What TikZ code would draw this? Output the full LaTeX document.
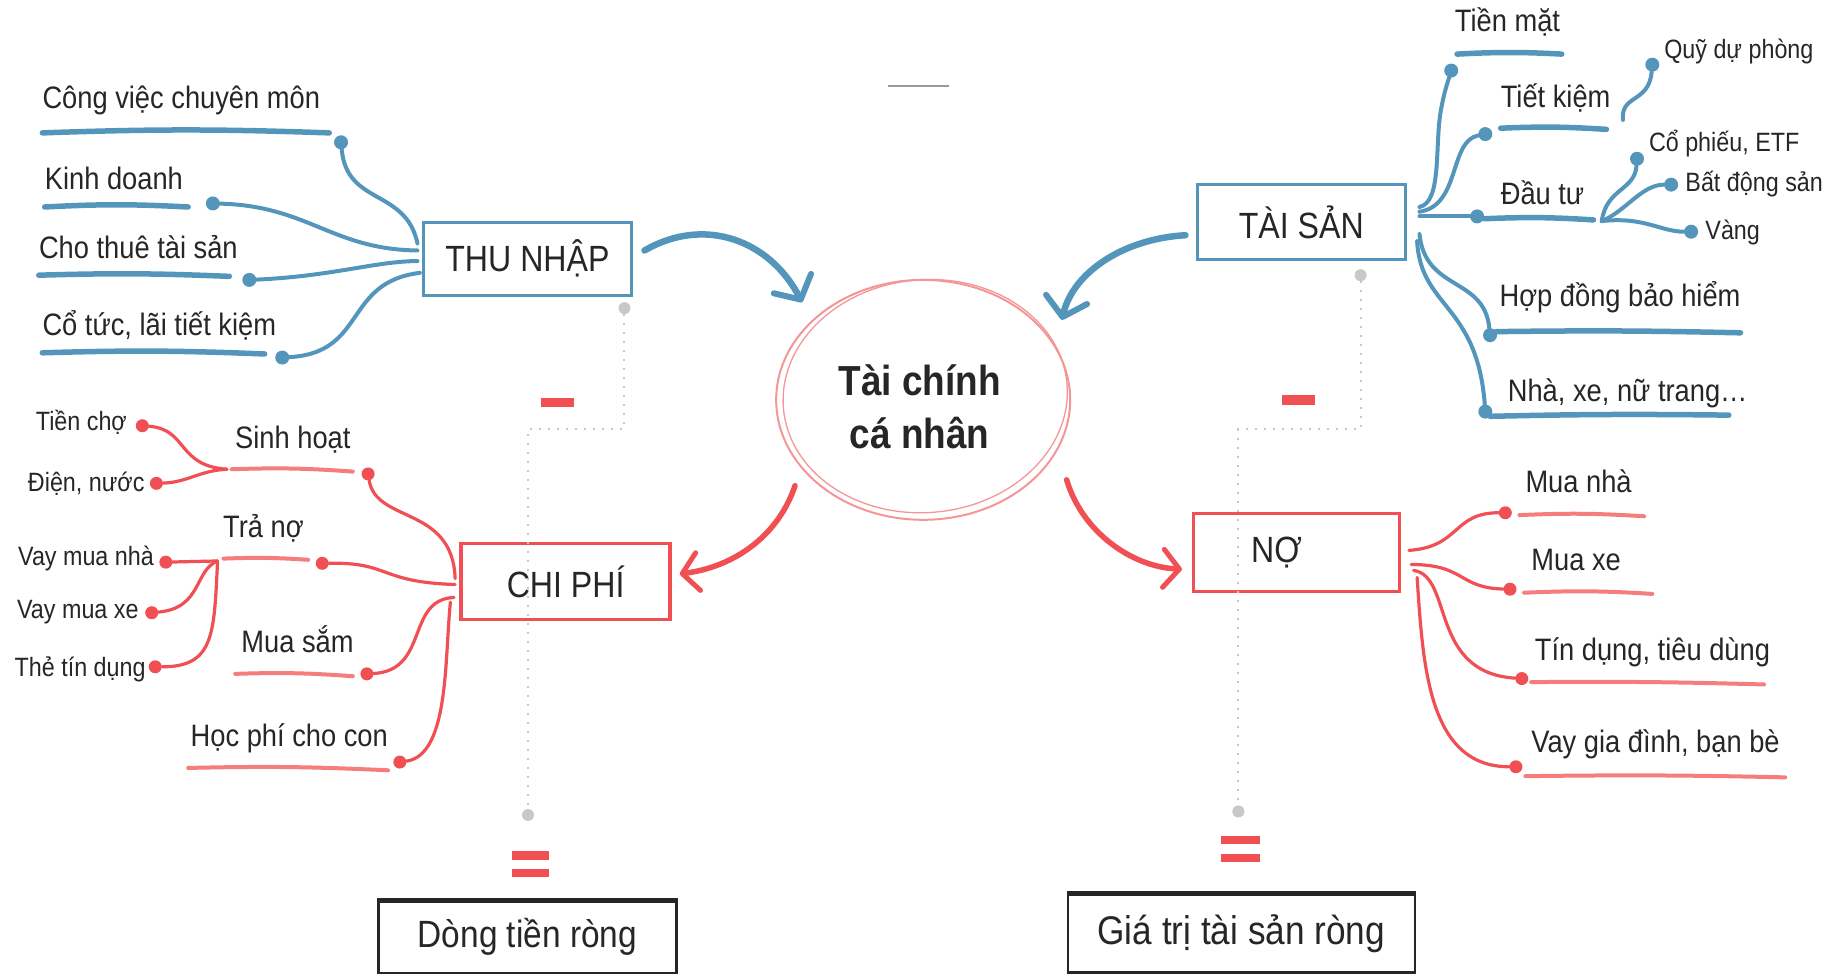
\documentclass[tikz,border=0pt]{standalone}
\usepackage{fontspec}
\setmainfont{Liberation Sans}[FakeStretch=0.88]
\usetikzlibrary{arrows.meta,calc}
\definecolor{cblue}{RGB}{84,150,187}
\definecolor{cred}{RGB}{240,80,84}
\definecolor{lred}{RGB}{245,125,125}
\definecolor{pinkc}{RGB}{244,150,150}
\definecolor{gry}{RGB}{200,200,200}
\definecolor{txt}{RGB}{38,38,38}
\begin{document}
\begin{tikzpicture}[x=1.176pt,y=-1.176pt,
  lbl/.style={text=txt,font=\fontsize{31}{36}\selectfont,inner sep=0pt},
  sml/.style={text=txt,font=\fontsize{26.5}{30}\selectfont,inner sep=0pt},
  bdot/.style={circle,fill=cblue,inner sep=0pt,minimum size=14pt},
  rdot/.style={circle,fill=cred,inner sep=0pt,minimum size=13pt},
  gdot/.style={circle,fill=gry,inner sep=0pt,minimum size=12pt},
  bline/.style={draw=cblue,line width=4pt,line cap=round},
  rline/.style={draw=cred,line width=3.2pt,line cap=round},
  bul/.style={draw=cblue,line width=5.5pt,line cap=round},
  rul/.style={draw=lred,line width=4pt,line cap=round},
  bbox/.style={draw=cblue,line width=3.4pt,minimum width=208pt,minimum height=73pt,text=txt,font=\fontsize{36.5}{40}\selectfont},
  rbox/.style={draw=cred,line width=3.4pt,minimum width=208pt,minimum height=76pt,text=txt,font=\fontsize{36.5}{40}\selectfont},
  kbox/.style={draw=black!85,line width=2.6pt,text=txt},
  dotline/.style={draw=gry,line width=2pt,dash pattern=on 2pt off 7pt},
  bigb/.style={draw=cblue,line width=6.5pt,line cap=round,-{Straight Barb[length=18pt,width=42pt,line width=6pt,round]}},
  bigr/.style={draw=cred,line width=5.5pt,line cap=round,-{Straight Barb[length=16pt,width=38pt,line width=5pt,round]}}
]
\useasboundingbox (0,0) rectangle (1568,828);

% top grey line
\draw[gray!80,line width=2.5pt] (755,73) -- (807,73);

% central circle
\draw[pinkc,line width=2pt] (785,340) ellipse [x radius=125, y radius=102];
\draw[pinkc,line width=1.3pt,rotate around={5:(785,340)}] (787,337) ellipse [x radius=121, y radius=99];
\node[align=center,text=txt,font=\bfseries\fontsize{42}{53}\selectfont] (TC) at (782,346) {Tài chính\\ cá nhân};

% boxes
\node[bbox] (THU) at (448.5,220) {THU NHẬP};
\node[bbox,minimum height=75pt] (TAI) at (1106.5,189) {TÀI SẢN};
\node[rbox,minimum width=209pt] (CHI) at (481,494.5) {CHI PHÍ};
\node[rbox,minimum width=206pt,minimum height=78pt] (NO) at (1102.5,470) {NỢ\hspace*{40pt}};
\node[kbox,minimum width=298pt,minimum height=72pt,font=\fontsize{38}{42}\selectfont] (DT) at (448.5,797) {Dòng tiền ròng};
\node[kbox,minimum width=347pt,minimum height=78pt,font=\fontsize{40}{44}\selectfont] (GT) at (1055.5,794) {Giá trị tài sản ròng};
\draw[black!85,line width=4.5pt] (DT.north west) -- (DT.north east);
\draw[black!85,line width=4.5pt] (GT.north west) -- (GT.north east);

% big arrows
\coordinate (a1s) at (548,213); \coordinate (a1e) at (682,257);
\coordinate (a2s) at (1008,200); \coordinate (a2e) at (903,272);
\coordinate (a3s) at (676,413); \coordinate (a3e) at (578,488);
\coordinate (a4s) at (907,408); \coordinate (a4e) at (1005,484);
\draw[bigb] (a1s) .. controls (600,183) and (655,205) .. (a1e);
\draw[bigb] (a2s) .. controls (955,203) and (912,232) .. (a2e);
\draw[bigr] (a3s) .. controls (662,455) and (625,482) .. (a3e);
\draw[bigr] (a4s) .. controls (920,452) and (962,482) .. (a4e);

% minus and equal signs
\fill[cred] (460,338) rectangle (488,346);
\fill[cred] (1090,336) rectangle (1118,344);
\fill[cred] (435,724) rectangle (467,731);
\fill[cred] (435,739) rectangle (467,746);
\fill[cred] (1038,711) rectangle (1071,718);
\fill[cred] (1038,726) rectangle (1071,733);

% dotted grey guides
\node[gdot] (gd1) at (531,262) {};
\node[gdot] (gd2) at (449,693) {};
\node[gdot] (gd3) at (1157,234) {};
\node[gdot] (gd4) at (1053,690) {};
\coordinate (gc1) at (531,365); \coordinate (gc2) at (449,365);
\coordinate (gc3) at (1157,365); \coordinate (gc4) at (1053,365);
\draw[dotline] (gd1) -- (gc1) -- (gc2) -- (gd2);
\draw[dotline] (gd3) -- (gc3) -- (gc4) -- (gd4);

% ---------- THU NHAP (left top, blue) ----------
\node[lbl,anchor=base west] (cv) at (36,92) {Công việc chuyên môn};
\node[lbl,anchor=base west] (kd) at (38,161) {Kinh doanh};
\node[lbl,anchor=base west] (ct) at (33,220) {Cho thuê tài sản};
\node[lbl,anchor=base west] (co) at (36,285) {Cổ tức, lãi tiết kiệm};
\draw[bul] (36,113) to[bend left=2] (280,113);
\draw[bul] (38,176) to[bend left=3] (160,176);
\draw[bul] (33,234) to[bend left=2] (195,235);
\draw[bul] (36,300) to[bend left=2] (225,301);
\node[bdot] (d1) at (290,121) {};
\node[bdot] (d2) at (181,173) {};
\node[bdot] (d3) at (212,238) {};
\node[bdot] (d4) at (240,304) {};
\coordinate (t1) at (355,207); \coordinate (t2) at (355,213);
\coordinate (t3) at (355,222); \coordinate (t4) at (357,232);
\draw[bline] (d1) .. controls (295,175) and (345,160) .. (t1);
\draw[bline] (d2) .. controls (262,175) and (282,212) .. (t2);
\draw[bline] (d3) .. controls (282,235) and (320,222) .. (t3);
\draw[bline] (d4) .. controls (312,300) and (292,240) .. (t4);

% ---------- TAI SAN (right top, blue) ----------
\node[lbl,anchor=base west] (tm) at (1237,27) {Tiền mặt};
\node[lbl,anchor=base west] (tk) at (1276,91) {Tiết kiệm};
\node[sml,anchor=base west] (qd) at (1415,50) {Quỹ dự phòng};
\node[lbl,anchor=base west] (dt) at (1276,174) {Đầu tư};
\node[sml,anchor=base west] (cp) at (1402,129) {Cổ phiếu, ETF};
\node[sml,anchor=base west] (bd) at (1433,163) {Bất động sản};
\node[sml,anchor=base west] (vg) at (1450,204) {Vàng};
\node[lbl,anchor=base west] (hd) at (1275,261) {Hợp đồng bảo hiểm};
\node[lbl,anchor=base west] (nx) at (1282,341) {Nhà, xe, nữ trang…};
\draw[bul] (1239,46) to[bend left=3] (1328,46);
\draw[bul] (1276,109) to[bend left=3] (1366,110);
\draw[bul] (1262,186) to[bend left=3] (1355,187);
\draw[bul] (1272,282) to[bend left=1] (1480,283);
\draw[bul] (1267,354) to[bend left=1] (1470,353);
\node[bdot] (e1) at (1234,60) {};
\node[bdot] (e2) at (1263,114) {};
\node[bdot] (e3) at (1405,55) {};
\node[bdot] (e4) at (1256,184) {};
\node[bdot] (e5) at (1392,135) {};
\node[bdot] (e6) at (1421,157) {};
\node[bdot] (e7) at (1438,197) {};
\node[bdot] (e8) at (1267,285) {};
\node[bdot] (e9) at (1263,350) {};
\coordinate (s1) at (1207,176); \coordinate (s2) at (1207,180);
\coordinate (s3) at (1207,184); \coordinate (s4) at (1207,199);
\coordinate (s5) at (1205,205);
\coordinate (tke) at (1380,102); \coordinate (br) at (1362,188);
\draw[bline] (s1) .. controls (1226,172) and (1220,125) .. (1225,95) .. controls (1228,78) and (1231,70) .. (e1);
\draw[bline] (s2) .. controls (1242,175) and (1232,120) .. (e2);
\draw[bline] (s3) -- (e4);
\draw[bline] (s4) .. controls (1212,248) and (1262,235) .. (e8);
\draw[bline] (s5) .. controls (1208,262) and (1256,258) .. (e9);
\draw[bline] (tke) .. controls (1378,80) and (1402,88) .. (e3);
\draw[bline] (br) .. controls (1366,160) and (1390,162) .. (e5);
\draw[bline] (br) .. controls (1382,180) and (1396,157) .. (e6);
\draw[bline] (br) .. controls (1398,184) and (1412,197) .. (e7);

% ---------- CHI PHI (left bottom, red) ----------
\node[lbl,anchor=base] (sh) at (249,381) {Sinh hoạt};
\node[sml,anchor=base east] (tc) at (108,366) {Tiền chợ};
\node[sml,anchor=base east] (dn) at (123,418) {Điện, nước};
\node[lbl,anchor=base] (tn) at (224,457) {Trả nợ};
\node[sml,anchor=base east] (vn) at (131,481) {Vay mua nhà};
\node[sml,anchor=base east] (vx) at (118,526) {Vay mua xe};
\node[sml,anchor=base east] (td) at (124,575) {Thẻ tín dụng};
\node[lbl,anchor=base] (ms) at (253,555) {Mua sắm};
\node[lbl,anchor=base] (hp) at (246,635) {Học phí cho con};
\draw[rul] (197,399) to[bend left=3] (300,401);
\draw[rul] (190,475) to[bend left=3] (262,476);
\draw[rul] (200,573) to[bend left=3] (300,575);
\draw[rul] (160,653) to[bend left=2] (330,655);
\node[rdot] (r1) at (313,403) {};
\node[rdot] (r2) at (121,362) {};
\node[rdot] (r3) at (133,411) {};
\node[rdot] (r4) at (274,479) {};
\node[rdot] (r5) at (141,478) {};
\node[rdot] (r6) at (129,521) {};
\node[rdot] (r7) at (132,567) {};
\node[rdot] (r8) at (312,573) {};
\node[rdot] (r9) at (340,648) {};
\coordinate (shs) at (193,399); \coordinate (tns) at (185,477);
\coordinate (c1) at (387,492); \coordinate (c2) at (387,497);
\coordinate (c3) at (386,508); \coordinate (c4) at (383,512);
\draw[rline] (r2) .. controls (160,365) and (150,396) .. (shs);
\draw[rline] (r3) .. controls (160,410) and (170,400) .. (shs);
\draw[rline] (tns) -- (r5);
\draw[rline] (tns) .. controls (165,485) and (172,517) .. (r6);
\draw[rline] (tns) .. controls (182,540) and (182,567) .. (r7);
\draw[rline] (r1) .. controls (320,445) and (385,430) .. (c1);
\draw[rline] (r4) .. controls (332,478) and (322,495) .. (c2);
\draw[rline] (c3) .. controls (345,510) and (365,570) .. (r8);
\draw[rline] (c4) .. controls (378,560) and (382,642) .. (r9);

% ---------- NO (right bottom, red) ----------
\node[lbl,anchor=base west] (mn) at (1297,419) {Mua nhà};
\node[lbl,anchor=base west] (mx) at (1302,485) {Mua xe};
\node[lbl,anchor=base west] (tdt) at (1305,562) {Tín dụng, tiêu dùng};
\node[lbl,anchor=base west] (vgd) at (1302,640) {Vay gia đình, bạn bè};
\draw[rul] (1292,438) to[bend left=3] (1398,439);
\draw[rul] (1296,504) to[bend left=3] (1405,505);
\draw[rul] (1302,580) to[bend left=1] (1500,582);
\draw[rul] (1297,660) to[bend left=1] (1518,661);
\node[rdot] (n1) at (1280,436) {};
\node[rdot] (n2) at (1284,501) {};
\node[rdot] (n3) at (1294,577) {};
\node[rdot] (n4) at (1289,652) {};
\coordinate (ns1) at (1198,468); \coordinate (ns2) at (1200,480);
\coordinate (ns3) at (1202,485); \coordinate (ns4) at (1205,491);
\draw[rline] (ns1) .. controls (1242,465) and (1235,436) .. (n1);
\draw[rline] (ns2) .. controls (1246,480) and (1240,500) .. (n2);
\draw[rline] (ns3) .. controls (1236,490) and (1215,572) .. (n3);
\draw[rline] (ns4) .. controls (1210,565) and (1214,652) .. (n4);
\end{tikzpicture}
\end{document}
